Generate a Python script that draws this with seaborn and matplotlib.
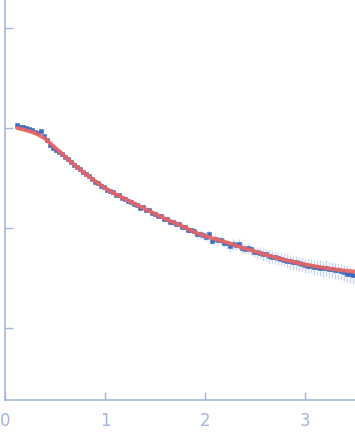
import numpy as np
import pandas as pd
import matplotlib
matplotlib.use("Agg")
import matplotlib.pyplot as plt
import seaborn as sns

# ---- data ----
q = [0.12, 0.15, 0.18, 0.21, 0.24, 0.27, 0.30, 0.33, 0.36, 0.39,
     0.42, 0.45, 0.48, 0.51, 0.54, 0.57, 0.60, 0.63, 0.66, 0.69,
     0.72, 0.75, 0.78, 0.81, 0.84, 0.87, 0.90, 0.93, 0.96, 0.99,
     1.02, 1.05, 1.08, 1.11, 1.14, 1.17, 1.20, 1.23, 1.26, 1.29,
     1.32, 1.35, 1.38, 1.41, 1.44, 1.47, 1.50, 1.53, 1.56, 1.59,
     1.62, 1.65, 1.68, 1.71, 1.74, 1.77, 1.80, 1.83, 1.86, 1.89,
     1.92, 1.95, 1.98, 2.01, 2.04, 2.07, 2.10, 2.13, 2.16, 2.19,
     2.22, 2.25, 2.28, 2.31, 2.34, 2.37, 2.40, 2.43, 2.46, 2.49,
     2.52, 2.55, 2.58, 2.61, 2.64, 2.67, 2.70, 2.73, 2.76, 2.79,
     2.82, 2.85, 2.88, 2.91, 2.94, 2.97, 3.00, 3.03, 3.06, 3.09,
     3.12, 3.15, 3.18, 3.21, 3.24, 3.27, 3.30, 3.33, 3.36, 3.39,
     3.42, 3.45, 3.48]

intensity = [1.06, 1.03, 1.02, 0.99, 0.98, 0.95, 0.92, 0.89, 0.93, 0.83,
             0.76, 0.68, 0.63, 0.60, 0.57, 0.545, 0.515, 0.49, 0.455, 0.43,
             0.41, 0.385, 0.362, 0.343, 0.333, 0.310, 0.290, 0.285, 0.263, 0.258,
             0.240, 0.233, 0.228, 0.214, 0.212, 0.199, 0.196, 0.186, 0.184, 0.172,
             0.171, 0.160, 0.161, 0.150, 0.150, 0.141, 0.139, 0.132, 0.131, 0.123,
             0.123, 0.116, 0.115, 0.109, 0.109, 0.102, 0.102, 0.0960, 0.0955, 0.0925,
             0.0870, 0.0870, 0.0850, 0.0820, 0.0865, 0.0745, 0.0785, 0.0750, 0.0755, 0.0715,
             0.0700, 0.0660, 0.0690, 0.0680, 0.0690, 0.0630, 0.0620, 0.0625, 0.0610, 0.0580,
             0.0570, 0.0565, 0.0548, 0.0545, 0.0525, 0.0515, 0.0508, 0.0498, 0.0488, 0.0480,
             0.0470, 0.0468, 0.0455, 0.0452, 0.0445, 0.0440, 0.0425, 0.0418, 0.0420, 0.0408,
             0.0410, 0.0402, 0.0395, 0.0402, 0.0390, 0.0388, 0.0378, 0.0376, 0.0370, 0.0360,
             0.0350, 0.0345, 0.0338]

rel_error = [0.01] * 16 + [0.015] * 14 + [0.03] * 10 + [0.045] * 10 + \
            [0.07] * 10 + [0.10] * 10 + [0.12] * 10 + [0.14] * 10 + \
            [0.16] * 10 + [0.18] * 13

fit_q = [0.12, 0.2, 0.3, 0.4, 0.5, 0.6, 0.7, 0.8, 0.9, 1.0,
         1.1, 1.2, 1.3, 1.4, 1.5, 1.6, 1.7, 1.8, 1.9, 2.0,
         2.2, 2.4, 2.6, 2.8, 3.0, 3.2, 3.4, 3.5]
fit_i = [1.000, 0.955, 0.891, 0.785, 0.638, 0.519, 0.422, 0.351, 0.295, 0.251,
         0.219, 0.195, 0.174, 0.155, 0.138, 0.124, 0.112, 0.101, 0.0902, 0.0832,
         0.0724, 0.0624, 0.0543, 0.0479, 0.0432, 0.0398, 0.0374, 0.0366]

x_ticks = [0, 1, 2, 3]
x_tick_labels = ["0", "1", "2", "3"]
y_ticks = [0.01, 0.1, 1, 10]

# ---- plot ----
sns.set_theme(style="white")
axis_color = "#a3b7de"
point_color = "#3b6dc3"
line_color = "#ee6560"

fig = plt.figure(figsize=(3.55, 4.38), dpi=100)
ax = fig.add_axes([5 / 355, 38 / 438, 350 / 355, 400 / 438])

data = pd.DataFrame({"q": q, "I": intensity})
data["err"] = np.array(intensity) * np.array(rel_error)
fit = pd.DataFrame({"q": fit_q, "I": fit_i})

ax.errorbar(data["q"], data["I"], yerr=data["err"], fmt="none",
            ecolor="#8aa8e0", elinewidth=1.0, alpha=0.45, zorder=1)
sns.scatterplot(data=data, x="q", y="I", marker="s", s=11, color=point_color,
                edgecolor=point_color, linewidth=0.4, ax=ax, zorder=2)
sns.lineplot(data=fit, x="q", y="I", color=line_color, linewidth=2.8,
             alpha=0.9, ax=ax, zorder=3)

ax.set_yscale("log")
ax.set_xlim(0, 3.5)
ax.set_ylim(10 ** -2.72, 10 ** 1.28)
ax.set_xticks(x_ticks)
ax.set_xticklabels(x_tick_labels)
ax.set_yticks(y_ticks)
ax.set_yticklabels([])
ax.yaxis.set_minor_locator(matplotlib.ticker.NullLocator())
ax.set_xlabel("")
ax.set_ylabel("")

for side in ["top", "right"]:
    ax.spines[side].set_visible(False)
for side in ["left", "bottom"]:
    ax.spines[side].set_color(axis_color)
    ax.spines[side].set_linewidth(1.2)

ax.tick_params(axis="both", direction="in", length=5.5, width=1.0,
               color=axis_color, labelcolor=axis_color, labelsize=12,
               bottom=True, left=True)
ax.tick_params(axis="x", pad=9)
ax.patch.set_alpha(0)

fig.savefig("out.png", dpi=100)
